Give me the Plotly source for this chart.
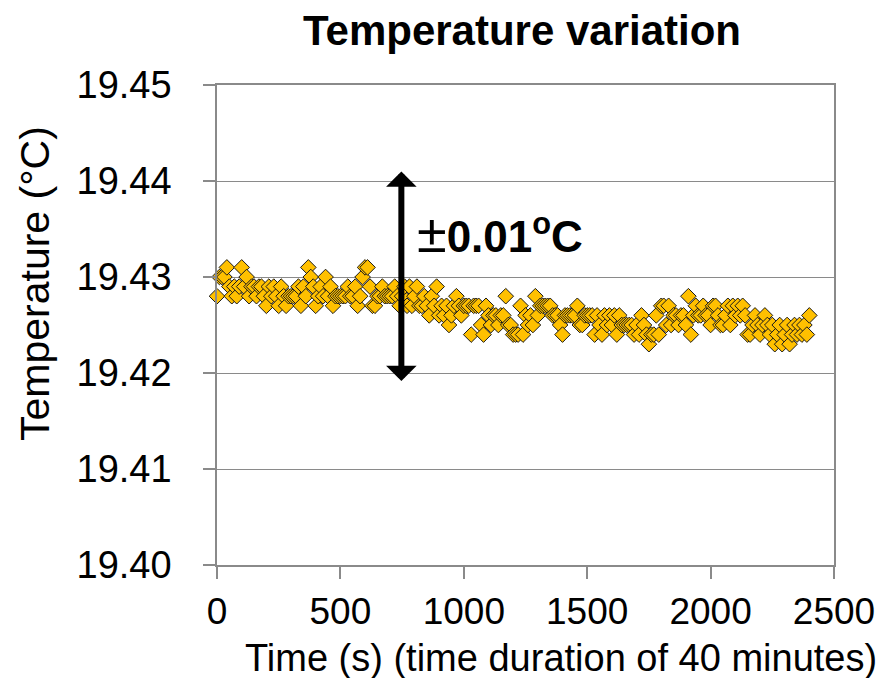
import plotly.graph_objects as go

# Sampling times (s)
time_s = [
    0, 10, 20, 30, 40, 50, 60, 70, 80, 90,
    100, 110, 120, 130, 140, 150, 160, 170, 180, 190,
    200, 210, 220, 230, 240, 250, 260, 270, 280, 290,
    300, 310, 320, 330, 340, 350, 360, 370, 380, 390,
    400, 410, 420, 430, 440, 450, 460, 470, 480, 490,
    500, 510, 520, 530, 540, 550, 560, 570, 580, 590,
    600, 610, 620, 630, 640, 650, 660, 670, 680, 690,
    700, 710, 720, 730, 740, 750, 760, 770, 780, 790,
    800, 810, 820, 830, 840, 850, 860, 870, 880, 890,
    900, 910, 920, 930, 940, 950, 960, 970, 980, 990,
    1000, 1010, 1020, 1030, 1040, 1050, 1060, 1070, 1080, 1090,
    1100, 1110, 1120, 1130, 1140, 1150, 1160, 1170, 1180, 1190,
    1200, 1210, 1220, 1230, 1240, 1250, 1260, 1270, 1280, 1290,
    1300, 1310, 1320, 1330, 1340, 1350, 1360, 1370, 1380, 1390,
    1400, 1410, 1420, 1430, 1440, 1450, 1460, 1470, 1480, 1490,
    1500, 1510, 1520, 1530, 1540, 1550, 1560, 1570, 1580, 1590,
    1600, 1610, 1620, 1630, 1640, 1650, 1660, 1670, 1680, 1690,
    1700, 1710, 1720, 1730, 1740, 1750, 1760, 1770, 1780, 1790,
    1800, 1810, 1820, 1830, 1840, 1850, 1860, 1870, 1880, 1890,
    1900, 1910, 1920, 1930, 1940, 1950, 1960, 1970, 1980, 1990,
    2000, 2010, 2020, 2030, 2040, 2050, 2060, 2070, 2080, 2090,
    2100, 2110, 2120, 2130, 2140, 2150, 2160, 2170, 2180, 2190,
    2200, 2210, 2220, 2230, 2240, 2250, 2260, 2270, 2280, 2290,
    2300, 2310, 2320, 2330, 2340, 2350, 2360, 2370, 2380, 2390,
    2400,
]

# Measured temperature (deg C)
temperature_c = [
    19.428, 19.430, 19.430, 19.430, 19.431, 19.429, 19.428, 19.429, 19.428, 19.429,
    19.431, 19.429, 19.430, 19.428, 19.429, 19.429, 19.428, 19.429, 19.429, 19.428,
    19.427, 19.429, 19.428, 19.429, 19.428, 19.427, 19.429, 19.428, 19.427, 19.428,
    19.428, 19.428, 19.428, 19.429, 19.427, 19.429, 19.428, 19.431, 19.430, 19.429,
    19.427, 19.428, 19.429, 19.428, 19.430, 19.428, 19.429, 19.427, 19.428, 19.428,
    19.428, 19.428, 19.428, 19.429, 19.428, 19.428, 19.429, 19.427, 19.428, 19.430,
    19.431, 19.431, 19.429, 19.427, 19.427, 19.428, 19.428, 19.429, 19.428, 19.428,
    19.428, 19.428, 19.429, 19.428, 19.427, 19.428, 19.429, 19.427, 19.429, 19.427,
    19.428, 19.429, 19.427, 19.427, 19.428, 19.427, 19.426, 19.428, 19.427, 19.429,
    19.426, 19.427, 19.426, 19.427, 19.425, 19.426, 19.427, 19.428, 19.427, 19.426,
    19.427, 19.427, 19.427, 19.424, 19.427, 19.427, 19.427, 19.425, 19.424, 19.427,
    19.426, 19.425, 19.426, 19.426, 19.425, 19.426, 19.426, 19.428, 19.425, 19.425,
    19.424, 19.424, 19.424, 19.427, 19.424, 19.426, 19.425, 19.426, 19.425, 19.428,
    19.426, 19.427, 19.427, 19.427, 19.427, 19.427, 19.426, 19.426, 19.426, 19.425,
    19.424, 19.426, 19.426, 19.426, 19.426, 19.426, 19.427, 19.425, 19.425, 19.426,
    19.426, 19.426, 19.426, 19.424, 19.426, 19.425, 19.424, 19.426, 19.425, 19.426,
    19.425, 19.426, 19.424, 19.426, 19.425, 19.425, 19.425, 19.425, 19.425, 19.424,
    19.425, 19.424, 19.426, 19.425, 19.424, 19.423, 19.424, 19.424, 19.426, 19.424,
    19.427, 19.427, 19.425, 19.427, 19.425, 19.426, 19.426, 19.425, 19.426, 19.426,
    19.425, 19.428, 19.424, 19.426, 19.427, 19.426, 19.426, 19.427, 19.426, 19.426,
    19.425, 19.427, 19.427, 19.426, 19.425, 19.425, 19.426, 19.427, 19.425, 19.427,
    19.426, 19.427, 19.426, 19.427, 19.426, 19.424, 19.424, 19.425, 19.426, 19.425,
    19.424, 19.425, 19.426, 19.425, 19.424, 19.425, 19.423, 19.424, 19.425, 19.423,
    19.424, 19.425, 19.423, 19.424, 19.425, 19.424, 19.425, 19.424, 19.425, 19.424,
    19.426,
]

x_ticks = [0, 500, 1000, 1500, 2000, 2500]
y_ticks = [19.40, 19.41, 19.42, 19.43, 19.44, 19.45]

FONT = "Arial, 'Liberation Sans', sans-serif"
GRID = "#8a8a8a"

fig = go.Figure()
fig.add_trace(go.Scatter(
    x=time_s, y=temperature_c, mode="markers",
    marker=dict(symbol="diamond", size=12, color="#FFC000",
                line=dict(color="#1a1a1a", width=1)),
    cliponaxis=False, showlegend=False,
))

fig.update_layout(
    width=885, height=678,
    margin=dict(l=209, r=59, t=77, b=121, autoexpand=False),
    paper_bgcolor="white", plot_bgcolor="white",
    font=dict(family=FONT, color="black"),
    title=dict(text="<b>Temperature variation</b>", x=514 / 885, xref="container",
               xanchor="center", y=1 - 22 / 678, yref="container", yanchor="middle",
               font=dict(size=42, family=FONT, color="black")),
    xaxis=dict(range=[0, 2500], tickvals=x_ticks, ticktext=[str(v) for v in x_ticks],
               showgrid=False, zeroline=False, showline=True, linecolor=GRID,
               linewidth=1.5, mirror=True, ticks="outside", ticklen=12,
               tickcolor=GRID, tickwidth=1.5, ticklabelstandoff=1, automargin=False,
               tickfont=dict(size=37, family=FONT, color="black")),
    yaxis=dict(range=[19.40, 19.45], tickvals=y_ticks,
               ticktext=[f"{v:.2f}" for v in y_ticks],
               showgrid=True, gridcolor=GRID, gridwidth=1.3, zeroline=False,
               showline=True, linecolor=GRID, linewidth=1.5, mirror=True,
               ticks="outside", ticklen=12, tickcolor=GRID, tickwidth=1.5,
               ticklabelstandoff=24, automargin=False,
               tickfont=dict(size=38, family=FONT, color="black")),
)

# Axis titles
fig.add_annotation(text="Time (s) (time duration of 40 minutes)", xref="paper", yref="paper",
                   x=(561 - 217) / 617, y=(565 - 658) / 480, xanchor="center", yanchor="middle",
                   showarrow=False, font=dict(size=38, family=FONT, color="black"))
fig.add_annotation(text="Temperature (°C)", xref="paper", yref="paper",
                   x=(35 - 217) / 617, y=(565 - 284) / 480, xanchor="center", yanchor="middle",
                   textangle=-90, showarrow=False, font=dict(size=41, family=FONT, color="black"))

# Double-headed arrow showing +/- 0.01 C band
fig.add_annotation(x=747, y=19.441, ax=747, ay=19.419, xref="x", yref="y",
                   axref="x", ayref="y", text="", showarrow=True,
                   arrowside="end+start", arrowhead=1, startarrowhead=1,
                   arrowsize=0.85, startarrowsize=0.85, arrowwidth=6,
                   arrowcolor="black", standoff=0, startstandoff=0)
fig.add_annotation(x=801, y=19.4346, xref="x", yref="y", xanchor="left", yanchor="middle",
                   text="<span style='font-size:54px'>±</span><b>0.01<sup>o</sup>C</b>",
                   showarrow=False, font=dict(size=44, family=FONT, color="black"))

fig.write_html("out.html")
